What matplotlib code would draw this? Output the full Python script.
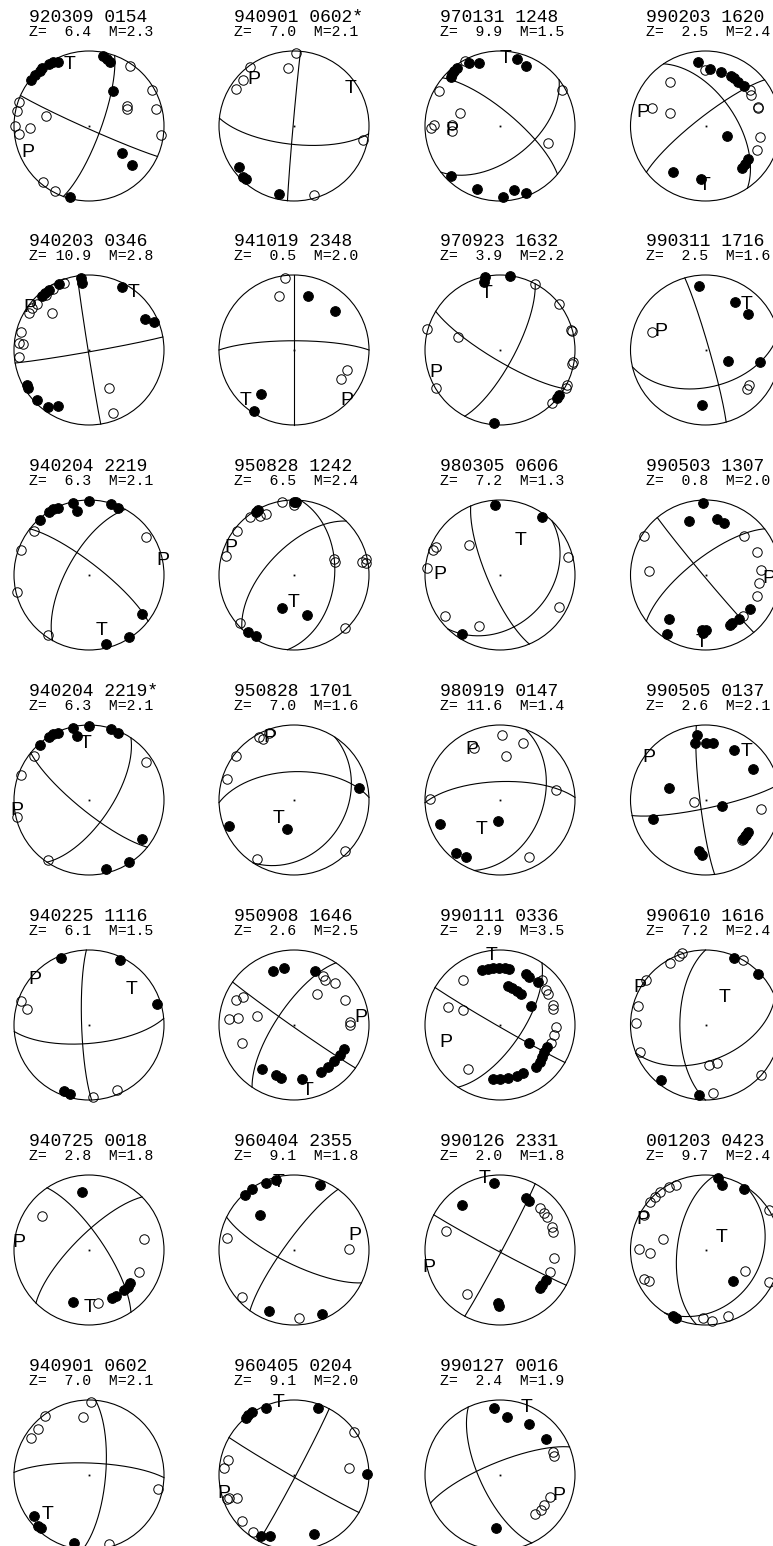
import numpy as np
import matplotlib
matplotlib.use('Agg')
import matplotlib.pyplot as plt
from matplotlib.patches import Circle

# event ids, column-major order (7 per column)
events = ['920309 0154', '940203 0346', '940204 2219', '940204 2219*', '940225 1116', '940725 0018', '940901 0602',
          '940901 0602*', '941019 2348', '950828 1242', '950828 1701', '950908 1646', '960404 2355', '960405 0204',
          '970131 1248', '970923 1632', '980305 0606', '980919 0147', '990111 0336', '990126 2331', '990127 0016',
          '990203 1620', '990311 1716', '990503 1307', '990505 0137', '990610 1616', '001203 0423']
depths = [6.4, 10.9, 6.3, 6.3, 6.1, 2.8, 7.0,
          7.0, 0.5, 6.5, 7.0, 2.6, 9.1, 9.1,
          9.9, 3.9, 7.2, 11.6, 2.9, 2.0, 2.4,
          2.5, 2.5, 0.8, 2.6, 7.2, 9.7]
mags = [2.3, 2.8, 2.1, 2.1, 1.5, 1.8, 2.1,
        2.1, 2.0, 2.4, 1.6, 2.5, 1.8, 2.0,
        1.5, 2.2, 1.3, 1.4, 3.5, 1.8, 1.9,
        2.4, 1.6, 2.0, 2.1, 2.4, 2.4]

# nodal planes (strike, dip)
strike1 = [114, 171, 308, 129, 178, 326, 5,
           185, 0, 5, 33, 125, 116, 120,
           310, 28, 157, 20, 120, 118, 155,
           326, 344, 140, 173, 180, 187]
dip1 = [87, 89, 78, 78, 82, 74, 72,
        89, 90, 45, 31, 88, 75, 88,
        74, 74, 76, 42, 88, 88, 68,
        57, 86, 88, 84, 62, 59]
strike2 = [20, 80, 209, 34, 85, 225, 272,
           96, 270, 224, 268, 214, 216, 28,
           52, 121, 44, 268, 34, 28, 248,
           232, 77, 232, 78, 68, 33]
dip2 = [77, 88, 66, 66, 70, 74, 77,
        70, 80, 61, 59, 71, 80, 88,
        53, 79, 33, 70, 66, 88, 76,
        80, 49, 72, 81, 51, 27]

# P and T axis label positions (unit circle coords)
p_pos = [(-0.81, -0.32), (-0.79, 0.60), (0.98, 0.22), (-0.96, -0.11), (-0.72, 0.64), (-0.93, 0.13), None,
         (-0.53, 0.65), (0.70, -0.64), (-0.84, 0.40), (-0.32, 0.87), (0.89, 0.13), (0.81, 0.22), (-0.93, -0.22),
         (-0.64, -0.03), (-0.86, -0.27), (-0.80, 0.04), (-0.375, 0.71), (-0.72, -0.20), (-0.95, -0.20), (0.79, -0.24),
         (-0.84, 0.21), (-0.59, 0.27), (0.84, -0.02), (-0.75, 0.60), (-0.87, 0.53), (-0.84, 0.44)]
t_pos = [(-0.26, 0.85), (0.59, 0.80), (0.17, -0.71), (-0.04, 0.78), (0.57, 0.51), (0.01, -0.73), (-0.55, -0.50),
         (0.75, 0.53), (-0.64, -0.64), (0.0, -0.33), (-0.20, -0.22), (0.18, -0.84), (-0.21, 0.93), (-0.21, 1.0),
         (0.08, 0.93), (-0.18, 0.78), (0.28, 0.49), (-0.24, -0.37), (-0.11, 0.96), (-0.20, 0.98), (0.36, 0.93),
         (-0.01, -0.76), (0.55, 0.64), (-0.05, -0.87), (0.55, 0.67), (0.25, 0.40), (0.22, 0.20)]

# first-motion polarities: compressions (filled) and dilatations (open)
comp_940204 = [(-0.65, 0.74), (-0.53, 0.84), (-0.48, 0.88), (-0.42, 0.90), (-0.22, 0.96), (-0.16, 0.85),
               (0.0, 0.99), (0.29, 0.95), (0.39, 0.89), (0.70, -0.52), (0.53, -0.82), (0.22, -0.92)]
dil_940204 = [(-0.74, 0.59), (-0.91, 0.33), (0.76, 0.51), (-0.96, -0.22), (-0.55, -0.80)]
comp_940901 = [(-0.74, -0.54), (-0.68, -0.68), (-0.64, -0.71), (-0.20, -0.91)]
dil_940901 = [(0.02, 0.98), (-0.59, 0.79), (-0.08, 0.77), (-0.68, 0.61), (-0.78, 0.49), (0.92, -0.19), (0.27, -0.92)]

compressions = [
    [(-0.77, 0.61), (-0.72, 0.68), (-0.66, 0.73), (-0.63, 0.77), (-0.54, 0.83), (-0.48, 0.85), (-0.41, 0.85),
     (0.19, 0.94), (0.24, 0.90), (0.28, 0.85), (0.32, 0.47), (0.44, -0.36), (0.57, -0.52), (-0.25, -0.94)],
    [(-0.11, 0.96), (-0.09, 0.89), (-0.40, 0.88), (-0.53, 0.80), (-0.59, 0.76), (-0.63, 0.72), (0.44, 0.84),
     (0.75, 0.42), (0.87, 0.37), (-0.83, -0.46), (-0.82, -0.50), (-0.70, -0.67), (-0.55, -0.76), (-0.42, -0.75)],
    comp_940204,
    comp_940204,
    [(-0.37, 0.90), (0.41, 0.87), (0.90, 0.28), (-0.34, -0.88), (-0.25, -0.92)],
    [(-0.09, 0.78), (-0.22, -0.69), (0.31, -0.64), (0.355, -0.61), (0.47, -0.53), (0.52, -0.49), (0.55, -0.44)],
    comp_940901,
    comp_940901,
    [(0.18, 0.72), (0.55, 0.52), (-0.44, -0.59), (-0.53, -0.81)],
    [(-0.51, 0.84), (-0.48, 0.87), (0.0, 0.98), (0.03, 0.97), (-0.16, -0.44), (0.17, -0.53), (-0.61, -0.76),
     (-0.51, -0.81)],
    [(0.86, 0.16), (-0.87, -0.34), (-0.10, -0.39)],
    [(-0.28, 0.72), (-0.13, 0.76), (0.28, 0.72), (0.66, -0.32), (0.61, -0.40), (0.53, -0.48), (0.45, -0.56),
     (0.36, -0.62), (-0.43, -0.58), (-0.24, -0.67), (-0.18, -0.70), (0.10, -0.72)],
    [(-0.65, 0.73), (-0.56, 0.82), (-0.375, 0.90), (-0.24, 0.93), (0.34, 0.87), (-0.45, 0.47), (-0.33, -0.81),
     (0.37, -0.85)],
    [(-0.64, 0.76), (-0.61, 0.80), (-0.56, 0.84), (-0.375, 0.90), (0.32, 0.89), (0.97, 0.01), (-0.44, -0.81),
     (-0.32, -0.81), (0.26, -0.78)],
    [(-0.66, 0.65), (-0.64, 0.69), (-0.61, 0.74), (-0.57, 0.77), (-0.42, 0.84), (-0.28, 0.84), (0.23, 0.90),
     (0.34, 0.80), (-0.66, -0.66), (-0.31, -0.84), (0.04, -0.94), (0.19, -0.85), (0.35, -0.89)],
    [(-0.20, 0.98), (-0.21, 0.91), (0.13, 0.99), (0.79, -0.60), (0.76, -0.64), (-0.08, -0.97)],
    [(-0.07, 0.93), (0.56, 0.77), (-0.51, -0.79)],
    [(-0.03, -0.28), (-0.80, -0.32), (-0.59, -0.71), (-0.46, -0.76)],
    [(-0.24, 0.73), (-0.16, 0.75), (-0.09, 0.76), (-0.01, 0.76), (0.07, 0.76), (0.12, 0.75), (0.35, 0.68),
     (0.39, 0.64), (0.51, 0.58), (0.10, 0.52), (0.16, 0.49), (0.23, 0.46), (0.28, 0.42), (0.41, 0.25),
     (0.39, -0.24), (0.62, -0.29), (0.59, -0.36), (0.56, -0.42), (0.53, -0.49), (0.48, -0.56), (0.30, -0.64),
     (0.23, -0.68), (0.10, -0.71), (0.0, -0.72), (-0.10, -0.72)],
    [(-0.08, 0.90), (-0.51, 0.60), (0.35, 0.70), (0.39, 0.65), (0.61, -0.40), (0.56, -0.46), (0.53, -0.51),
     (-0.03, -0.71), (-0.01, -0.74)],
    [(-0.08, 0.89), (0.09, 0.78), (0.38, 0.68), (0.61, 0.48), (-0.05, -0.70)],
    [(-0.10, 0.86), (0.06, 0.76), (0.20, 0.72), (0.34, 0.67), (0.38, 0.64), (0.43, 0.59), (0.51, 0.53),
     (0.28, -0.13), (0.48, -0.56), (0.52, -0.50), (0.56, -0.44), (-0.44, -0.61), (-0.06, -0.71)],
    [(-0.09, 0.85), (0.39, 0.64), (0.56, 0.48), (0.30, -0.15), (0.73, -0.16), (-0.05, -0.73)],
    [(-0.03, 0.96), (-0.22, 0.72), (0.15, 0.75), (0.24, 0.70), (0.59, -0.45), (0.45, -0.58), (0.35, -0.64),
     (0.32, -0.66), (-0.49, -0.58), (-0.52, -0.78), (-0.05, -0.73), (0.0, -0.73), (-0.03, -0.77)],
    [(-0.11, 0.87), (-0.14, 0.76), (0.01, 0.76), (0.10, 0.76), (0.38, 0.67), (0.63, 0.41), (-0.49, 0.16),
     (0.22, -0.08), (-0.70, -0.25), (0.57, -0.42), (0.54, -0.46), (0.50, -0.52), (-0.09, -0.68), (-0.05, -0.73)],
    [(0.38, 0.90), (0.70, 0.68), (-0.59, -0.73), (-0.09, -0.93)],
    [(0.17, 0.96), (0.22, 0.87), (0.51, 0.82), (0.36, -0.41), (-0.40, -0.91), (-0.44, -0.88)],
]
dilatations = [
    [(-0.94, 0.32), (-0.96, 0.20), (-0.99, 0.00), (-0.94, -0.10), (-0.79, -0.02), (-0.57, 0.13), (0.54, 0.80),
     (0.84, 0.48), (0.89, 0.23), (0.50, 0.27), (0.51, 0.23), (0.96, -0.12), (-0.61, -0.75), (-0.46, -0.86)],
    [(-0.34, 0.89), (-0.48, 0.82), (-0.57, 0.73), (-0.70, 0.62), (-0.76, 0.56), (-0.80, 0.49), (-0.50, 0.50),
     (-0.91, 0.24), (-0.94, 0.09), (-0.88, 0.08), (-0.93, -0.09), (0.26, -0.51), (0.32, -0.84)],
    dil_940204,
    dil_940204,
    [(-0.91, 0.32), (-0.83, 0.22), (0.05, -0.96), (0.375, -0.87)],
    [(-0.63, 0.46), (0.73, 0.15), (0.67, -0.29), (0.125, -0.71)],
    dil_940901,
    dil_940901,
    [(-0.125, 0.96), (-0.20, 0.72), (0.70, -0.27), (0.63, -0.39)],
    [(-0.375, 0.81), (-0.45, 0.79), (-0.59, 0.78), (-0.16, 0.98), (0.0, 0.93), (-0.76, 0.59), (-0.91, 0.25),
     (0.53, 0.21), (0.55, 0.18), (0.91, 0.18), (0.96, 0.22), (0.96, 0.16), (-0.72, -0.64), (0.68, -0.70)],
    [(-0.34, 0.89), (-0.42, 0.81), (-0.47, 0.84), (-0.77, 0.59), (-0.90, 0.28), (0.68, -0.68), (-0.49, -0.79)],
    [(0.38, 0.65), (0.41, 0.60), (0.55, 0.56), (0.30, 0.42), (0.68, 0.34), (-0.77, 0.34), (-0.68, 0.37),
     (-0.87, 0.08), (-0.75, 0.09), (-0.49, 0.12), (0.74, 0.04), (0.74, 0.0), (-0.70, -0.24)],
    [(-0.89, 0.16), (0.73, 0.02), (-0.69, -0.62), (0.07, -0.91)],
    [(0.80, 0.58), (0.73, 0.09), (-0.88, 0.20), (-0.93, 0.09), (-0.90, -0.32), (-0.87, -0.31), (-0.76, -0.30),
     (-0.69, -0.61), (-0.55, -0.76)],
    [(-0.47, 0.87), (-0.81, 0.47), (-0.54, 0.18), (-0.88, 0.01), (-0.92, -0.03), (-0.64, 0.01), (-0.64, -0.06),
     (0.82, 0.48), (0.64, -0.23)],
    [(0.46, 0.88), (0.78, 0.62), (-0.97, 0.28), (-0.56, 0.18), (0.95, 0.27), (0.96, 0.25), (0.97, -0.16),
     (0.96, -0.19), (0.89, -0.47), (0.88, -0.51), (-0.86, -0.51), (0.69, -0.71)],
    [(-0.86, 0.38), (-0.90, 0.33), (-0.41, 0.40), (-0.97, 0.09), (0.91, 0.24), (0.78, -0.42), (-0.74, -0.54),
     (-0.28, -0.68)],
    [(0.02, 0.87), (0.31, 0.76), (-0.35, 0.69), (0.08, 0.59), (-0.94, 0.02), (0.74, 0.13), (0.38, -0.76)],
    [(-0.49, 0.60), (-0.70, 0.24), (-0.49, 0.20), (-0.43, -0.59), (0.56, 0.60), (0.61, 0.47), (0.64, 0.42),
     (0.70, 0.27), (0.70, 0.22), (0.74, -0.02), (0.72, -0.13), (0.68, -0.24)],
    [(0.53, 0.56), (0.58, 0.50), (0.62, 0.44), (0.69, 0.31), (0.71, 0.24), (-0.72, 0.25), (0.72, -0.10),
     (0.66, -0.29), (-0.44, -0.58)],
    [(0.71, 0.31), (0.72, 0.25), (0.66, -0.29), (0.58, -0.40), (0.54, -0.46), (0.47, -0.52)],
    [(-0.01, 0.75), (-0.48, 0.59), (0.61, 0.41), (0.59, 0.48), (0.70, 0.26), (0.70, 0.24), (-0.72, 0.24),
     (-0.48, 0.17), (0.72, -0.14), (0.68, -0.32)],
    [(-0.72, 0.24), (0.58, -0.47), (0.55, -0.52)],
    [(-0.82, 0.52), (0.51, 0.52), (0.68, 0.31), (-0.75, 0.06), (0.74, 0.07), (0.71, -0.11), (0.68, -0.28),
     (0.50, -0.54)],
    [(-0.16, -0.02), (0.74, -0.12), (0.48, -0.53), (0.53, -0.48)],
    [(-0.31, 0.96), (-0.36, 0.92), (-0.47, 0.83), (-0.80, 0.60), (-0.90, 0.25), (-0.93, 0.03), (-0.87, -0.36),
     (0.50, 0.87), (0.04, -0.53), (0.15, -0.51), (0.10, -0.90), (0.74, -0.66)],
    [(-0.39, 0.87), (-0.49, 0.84), (-0.61, 0.78), (-0.67, 0.71), (-0.74, 0.64), (-0.82, 0.47), (-0.57, 0.15),
     (-0.89, 0.01), (-0.74, -0.04), (-0.82, -0.39), (-0.75, -0.41), (0.53, -0.28), (0.84, 0.53), (0.84, -0.42),
     (0.085, -0.95), (-0.03, -0.90), (0.30, -0.88)],
]


def plane_curve(strike, dip, n=181):
    # lower-hemisphere equal-area projection of a nodal plane
    s, d = np.radians(strike), np.radians(dip)
    lam = np.linspace(0, np.pi, n)
    vn = np.cos(lam) * np.cos(s) - np.sin(lam) * np.cos(d) * np.sin(s)
    ve = np.cos(lam) * np.sin(s) + np.sin(lam) * np.cos(d) * np.cos(s)
    vd = np.sin(lam) * np.sin(d)
    plunge = np.arcsin(np.clip(vd, -1, 1))
    trend = np.arctan2(ve, vn)
    r = np.sqrt(2) * np.sin((np.pi / 2 - plunge) / 2)
    return r * np.sin(trend), r * np.cos(trend)


W, H = 773, 1546
R = 75
col_x = [89, 294, 500, 705.5]
row_y = [126, 350, 575, 800, 1025, 1250, 1475]

fig = plt.figure(figsize=(W / 100, H / 100), dpi=100)
fig.patch.set_facecolor('white')

for i, ev in enumerate(events):
    cx, cy = col_x[i // 7], row_y[i % 7]
    ax = fig.add_axes([(cx - R) / W, 1 - (cy + R) / H, 2 * R / W, 2 * R / H])
    ax.set_xlim(-1, 1)
    ax.set_ylim(-1, 1)
    ax.axis('off')

    # stereonet rim and centre dot
    ax.add_patch(Circle((0, 0), 1, fill=False, lw=0.8, ec='black', clip_on=False))
    ax.plot(0, 0, 's', ms=1.3, color='black', mew=0)

    # nodal planes
    for s, d in ((strike1[i], dip1[i]), (strike2[i], dip2[i])):
        x, y = plane_curve(s, d)
        ax.plot(x, y, color='black', lw=0.8, clip_on=False)

    # polarities
    if compressions[i]:
        xs, ys = zip(*compressions[i])
        ax.plot(xs, ys, 'o', ms=7.0, mfc='black', mec='black', mew=0.7, ls='none', clip_on=False)
    if dilatations[i]:
        xs, ys = zip(*dilatations[i])
        ax.plot(xs, ys, 'o', ms=6.8, mfc='none', mec='black', mew=0.7, ls='none', clip_on=False)

    # P and T axes
    for lab, pos in (('P', p_pos[i]), ('T', t_pos[i])):
        if pos is not None:
            ax.text(pos[0], pos[1] - 0.09, lab, family='Liberation Sans', fontsize=14,
                    ha='center', va='baseline', clip_on=False)

    # header
    ax.text(-0.8, 1.39, ev, family='Liberation Mono', fontsize=13, ha='left', va='baseline', clip_on=False)
    ax.text(-0.8, 1.204, f'Z={depths[i]:5.1f}  M={mags[i]:3.1f}', family='Liberation Mono', fontsize=10.7,
            ha='left', va='baseline', clip_on=False)

fig.savefig('out.png', dpi=100, facecolor='white')
